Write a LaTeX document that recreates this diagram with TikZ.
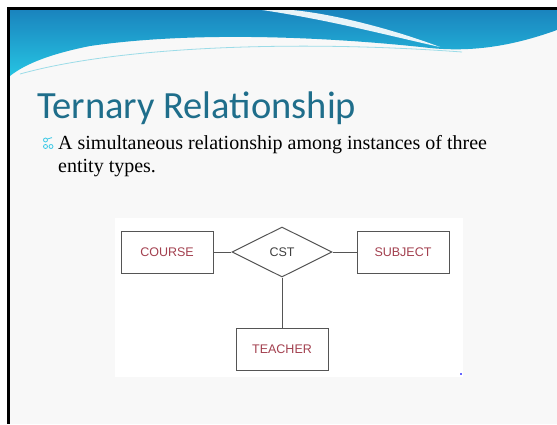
\documentclass[tikz,border=0pt]{standalone}
\usepackage{fontspec}
\setmainfont{Liberation Serif}
\newfontfamily\titlefont{Carlito}
\newfontfamily\erfont{Liberation Sans}
\usetikzlibrary{shapes.geometric}

\definecolor{slidebg}{HTML}{F8F8F8}
\definecolor{hdtop}{HTML}{1A84BE}
\definecolor{hdbottom}{HTML}{26C4E2}
\definecolor{titleteal}{HTML}{1F6E8B}
\definecolor{bulletcyan}{HTML}{38C8E6}
\definecolor{erline}{HTML}{555555}
\definecolor{errose}{HTML}{A3404F}

\tikzset{
	entity/.style={draw=erline, line width=1pt, minimum width=92pt, minimum height=42pt,
		inner sep=0pt, font=\erfont\fontsize{12.5}{13}\selectfont, text=errose},
	relation/.style={diamond, draw=erline, line width=1pt, minimum width=100pt,
		minimum height=50pt, inner sep=0pt, font=\erfont\fontsize{12.5}{13}\selectfont, text=black!75},
	link/.style={draw=erline, line width=1pt},
	bodytext/.style={anchor=base west, inner sep=0pt, font=\fontsize{20}{23}\selectfont}
}

\begin{document}
\begin{tikzpicture}[x=1pt, y=-1pt]
		\useasboundingbox (0,0) rectangle (557,424);
		\fill[white] (0,0) rectangle (557,424);
		\fill[slidebg] (10,10) rectangle (557,424);

		% header wave
		\shade[top color=hdtop, bottom color=hdbottom] (10,10) -- (557,10) -- (557,30)
			.. controls (510,47) and (470,52) .. (430,48)
			.. controls (340,38) and (200,30) .. (90,46)
			.. controls (50,54) and (25,64) .. (10,76) -- cycle;
		\fill[white, opacity=0.9] (262,10) .. controls (330,20) and (390,36) .. (440,47)
			.. controls (395,30) and (335,14) .. (292,10) -- cycle;
		\draw[color=black!10!hdbottom!45!white, line width=0.8pt] (20,74) .. controls (120,46) and (300,40) .. (462,52);

		% frame
		\fill[black] (7,7) rectangle (557,10);
		\fill[black] (7,7) rectangle (10,424);

		\node[anchor=base west, inner sep=0pt, text=titleteal, font=\titlefont\fontsize{38.5}{44}\selectfont]
			(title) at (37,118) {Ternary Relationship};

		% bullet
		\begin{scope}[bulletcyan, line width=0.8pt]
			\draw (45.5,140) circle[radius=2];
			\draw (45.5,146.5) circle[radius=2];
			\draw (51,146.5) circle[radius=2];
			\draw (47.4,139) -- (52,137.6);
		\end{scope}
		\node[bodytext] (line1) at (58,149) {A simultaneous relationship among instances of three};
		\node[bodytext] (line2) at (58,172) {entity types.};

		% E-R picture
		\fill[white] (115,218) rectangle (463,377);
		\fill[blue!60] (460,373) rectangle (462,375);

		\node[relation] (cst) at (282,252) {CST};
		\foreach \n/\x/\y/\t in {course/167/252/COURSE, subject/403/252/SUBJECT, teacher/282/349/TEACHER} {
			\node[entity] (\n) at (\x,\y) {\t};
		}

		\foreach \n in {course, subject, teacher} {
			\draw[link] (cst) -- (\n);
		}
	\end{tikzpicture}
\end{document}
